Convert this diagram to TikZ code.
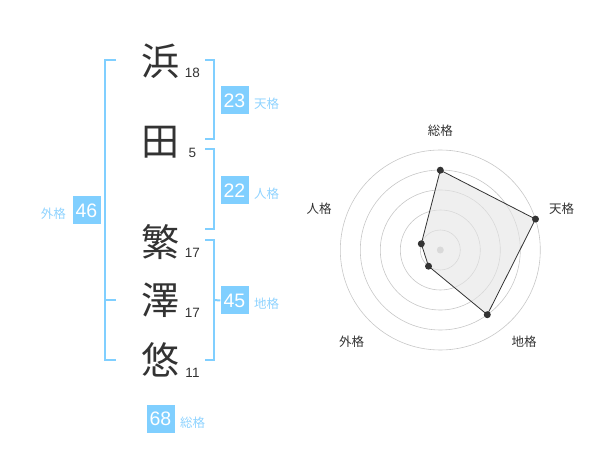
\documentclass[tikz,border=0pt]{standalone}
\usepackage{fontspec}
\setmainfont{Liberation Sans}
\newfontfamily\jp{Noto Sans CJK JP}
\definecolor{bluebox}{HTML}{80CFFF}
\definecolor{bluetxt}{HTML}{8FD3FF}
\definecolor{ink}{HTML}{333333}
\tikzset{
  kanji/.style={font=\jp\fontsize{38}{38}\selectfont, text=ink, inner sep=0pt},
  strokes/.style={font=\fontsize{13.5}{13.5}\selectfont, text=ink, inner sep=0pt},
  scorebox/.style={fill=bluebox, text=white, minimum width=28pt, minimum height=28pt, inner sep=0pt, font=\fontsize{19.5}{19.5}\selectfont},
  scorelbl/.style={text=bluetxt, font=\jp\fontsize{12.5}{12.5}\selectfont, inner sep=0pt},
  brk/.style={draw=bluebox, line width=2pt},
  ring/.style={draw=black!22, line width=0.6pt},
  axlbl/.style={text=ink, font=\jp\fontsize{12.5}{12.5}\selectfont, inner sep=0pt},
  dot/.style={circle, fill=ink, inner sep=0pt, minimum size=7pt}
}
\begin{document}
\begin{tikzpicture}[x=1pt,y=-1pt]
\useasboundingbox (0,0) rectangle (600,470);
% kanji
\node[kanji] (k1) at (160,61) {浜};
\node[kanji] (k2) at (160,142) {田};
\node[kanji] (k3) at (160,242) {繁};
\node[kanji] (k4) at (160,300) {澤};
\node[kanji] (k5) at (160,360) {悠};
\node[strokes] (s1) at (192.5,73) {18};
\node[strokes] (s2) at (192.5,153) {5};
\node[strokes] (s3) at (192.5,252.5) {17};
\node[strokes] (s4) at (192.5,312.5) {17};
\node[strokes] (s5) at (192.5,372.5) {11};
% brackets
\coordinate (tA) at (205,60); \coordinate (tB) at (214,60);
\coordinate (tC) at (214,139.5); \coordinate (tD) at (205,139.5);
\draw[brk] (tA) -- (tB) -- (tC) -- (tD);
\coordinate (jA) at (205,149.5); \coordinate (jB) at (214,149.5);
\coordinate (jC) at (214,229.5); \coordinate (jD) at (205,229.5);
\draw[brk] (jA) -- (jB) -- (jC) -- (jD);
\coordinate (cA) at (205,240); \coordinate (cB) at (214,240);
\coordinate (cC) at (214,360); \coordinate (cD) at (205,360);
\draw[brk] (cA) -- (cB) -- (cC) -- (cD);
\coordinate (gA) at (116,60); \coordinate (gB) at (105,60);
\coordinate (gC) at (105,360); \coordinate (gD) at (116,360);
\draw[brk] (gA) -- (gB) -- (gC) -- (gD);
\coordinate (gM1) at (105,300); \coordinate (gM2) at (116,300);
\draw[brk] (gM1) -- (gM2);
% score boxes
\node[scorebox] (b1) at (234.5,100.5) {23};
\node[scorelbl, anchor=west] (l1) at (254,104) {天格};
\node[scorebox] (b2) at (234.5,190.5) {22};
\node[scorelbl, anchor=west] (l2) at (254,194) {人格};
\node[scorebox] (b3) at (234.5,300.5) {45};
\node[scorelbl, anchor=west] (l3) at (254,304) {地格};
\coordinate (cM) at (214,300);
\draw[brk] (cM) -- (b3.west);
\node[scorebox] (b4) at (86.5,210.5) {46};
\node[scorelbl, anchor=east] (l4) at (66,214) {外格};
\node[scorebox] (b5) at (160.5,419) {68};
\node[scorelbl, anchor=west] (l5) at (180,422.5) {総格};
% radar
\coordinate (O) at (440.3,250);
\foreach \r in {20,40,60,80,100} \draw[ring] (O) circle[radius=\r];
\node[circle, fill=black!22, inner sep=0pt, minimum size=7pt] (ctr) at (O) {};
\coordinate (p1) at (440.3,170.2);
\coordinate (p2) at (535.5,219.1);
\coordinate (p3) at (487.3,314.7);
\coordinate (p4) at (428.5,266.2);
\coordinate (p5) at (421.3,243.8);
\draw[draw=ink, line width=0.8pt, fill=black!10, fill opacity=0.6] (p1) -- (p2) -- (p3) -- (p4) -- (p5) -- cycle;
\foreach \p in {p1,p2,p3,p4,p5} \node[dot] at (\p) {};
\node[axlbl] (a1) at (440.3,130.5) {総格};
\node[axlbl] (a2) at (561.7,209) {天格};
\node[axlbl] (a3) at (524,341.5) {地格};
\node[axlbl] (a4) at (351.7,341.5) {外格};
\node[axlbl] (a5) at (319,209) {人格};
\end{tikzpicture}
\end{document}
